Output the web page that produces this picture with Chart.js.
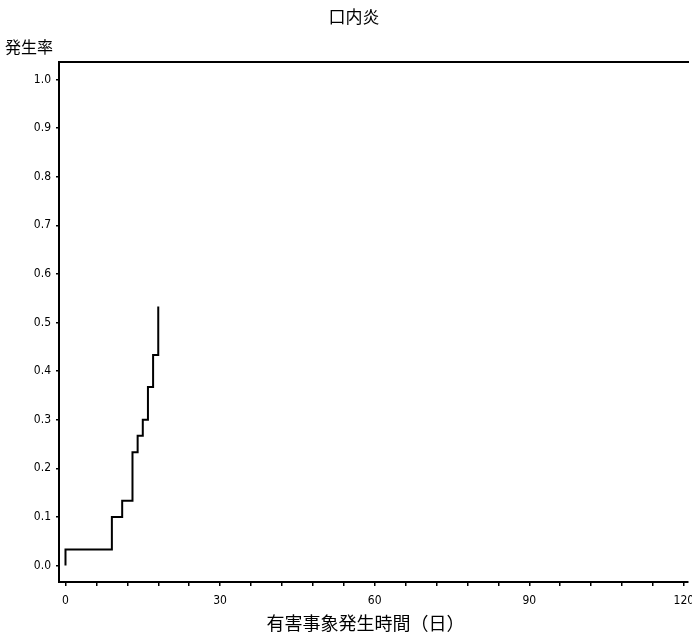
<!DOCTYPE html>
<html>
<head>
<meta charset="utf-8">
<script src="https://cdn.jsdelivr.net/npm/chart.js@4/dist/chart.umd.min.js"></script>
<style>
  html, body { margin: 0; padding: 0; background: #fff; }
  #wrap { width: 692px; height: 643px; position: relative; }
</style>
</head>
<body>
<div id="wrap"><canvas id="c"></canvas></div>
<script>
// Cumulative incidence of stomatitis over time (days)
const chartTitle = '口内炎';
const yAxisLabel = '発生率';
const xAxisLabel = '有害事象発生時間（日）';

const eventDays  = [0, 0, 9, 11, 13, 14, 15, 16, 17, 18];
const incidence  = [0, 0.033, 0.100, 0.133, 0.233, 0.267, 0.300, 0.367, 0.433, 0.533];

const xTickValues   = [0, 6, 12, 18, 24, 30, 36, 42, 48, 54, 60, 66, 72, 78, 84, 90, 96, 102, 108, 114, 120];
const xTickLabelled = [0, 30, 60, 90, 120];
const yTickValues   = [0, 0.1, 0.2, 0.3, 0.4, 0.5, 0.6, 0.7, 0.8, 0.9, 1.0];

const tickFont = { family: "'Liberation Sans Narrow', 'DejaVu Sans Condensed', sans-serif", size: 12 };
const cjkFont = "'Noto Sans CJK JP', 'Noto Sans CJK SC', sans-serif";

const labelPlugin = {
  id: 'labels',
  afterDraw(chart) {
    const ctx = chart.ctx;
    const area = chart.chartArea;
    ctx.save();
    ctx.fillStyle = '#000';
    ctx.textBaseline = 'middle';

    ctx.font = `17px ${cjkFont}`;
    ctx.textAlign = 'center';
    ctx.fillText(chartTitle, 354, 17);

    ctx.font = `16px ${cjkFont}`;
    ctx.textAlign = 'left';
    ctx.fillText(yAxisLabel, 5, 47);

    ctx.font = `18px ${cjkFont}`;
    ctx.textAlign = 'center';
    ctx.fillText(xAxisLabel, (area.left + area.right) / 2 - 8, 623);
    ctx.restore();
  }
};

// horizontal axes take no extra side padding so the plot spans to the right edge
function fitHorizontal(height) {
  return function (scale) {
    scale.height = height;
    scale.paddingLeft = 0;
    scale.paddingRight = 0;
  };
}

new Chart(document.getElementById('c'), {
  type: 'line',
  data: {
    datasets: [{
      data: eventDays.map((d, i) => ({ x: d, y: incidence[i] })),
      borderColor: '#000',
      borderWidth: 2,
      pointRadius: 0,
      stepped: true,
      fill: false
    }]
  },
  options: {
    responsive: true,
    maintainAspectRatio: false,
    animation: false,
    layout: { padding: { top: 62, right: 4, left: 0, bottom: 0 } },
    plugins: { legend: { display: false }, title: { display: false }, tooltip: { enabled: false } },
    scales: {
      x: {
        type: 'linear',
        position: 'bottom',
        min: -1.26,
        max: 120.8,
        afterBuildTicks(scale) { scale.ticks = xTickValues.map(v => ({ value: v })); },
        afterFit: fitHorizontal(61),
        ticks: {
          color: '#000',
          font: tickFont,
          padding: 8,
          maxRotation: 0,
          autoSkip: false,
          callback: v => xTickLabelled.includes(v) ? String(v) : ''
        },
        grid: { drawOnChartArea: false, drawTicks: true, tickLength: 4, color: '#000', lineWidth: 1.5 },
        border: { display: true, color: '#000', width: 2 }
      },
      xTop: {
        type: 'linear',
        position: 'top',
        min: -1.26,
        max: 120.8,
        afterFit: fitHorizontal(0),
        ticks: { display: false },
        grid: { display: false, drawTicks: false },
        border: { display: true, color: '#000', width: 2 }
      },
      y: {
        type: 'linear',
        min: -0.034,
        max: 1.036,
        afterBuildTicks(scale) { scale.ticks = yTickValues.map(v => ({ value: v })); },
        afterFit(scale) { scale.width = 59; scale.paddingTop = 0; scale.paddingBottom = 0; },
        ticks: {
          color: '#000',
          font: tickFont,
          padding: 5,
          autoSkip: false,
          callback: v => Number(v).toFixed(1)
        },
        grid: { drawOnChartArea: false, drawTicks: true, tickLength: 3, color: '#000', lineWidth: 1.5 },
        border: { display: true, color: '#000', width: 2 }
      }
    }
  },
  plugins: [labelPlugin]
});
</script>
</body>
</html>
